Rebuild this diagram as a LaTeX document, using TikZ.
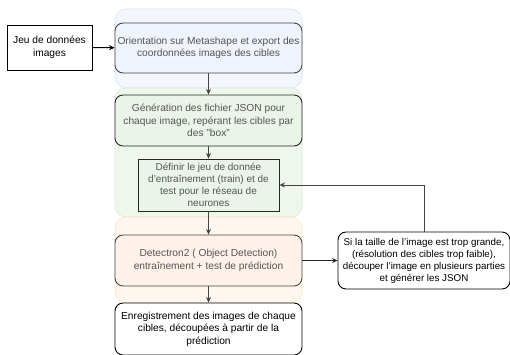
\documentclass[tikz,border=0pt]{standalone}
\usepackage{fontspec}
\setmainfont{Liberation Sans}[Ligatures=ResetAll]
\usetikzlibrary{arrows.meta}
\definecolor{grpblue}{HTML}{F3F7FD}
\definecolor{grpblueb}{HTML}{D6E3F4}
\definecolor{nodeblue}{HTML}{EEF3FC}
\definecolor{grpgreen}{HTML}{EFF7ED}
\definecolor{grpgreenb}{HTML}{D8EAD5}
\definecolor{nodegreen}{HTML}{EBF4E9}
\definecolor{grporange}{HTML}{FFF6EF}
\definecolor{grporangeb}{HTML}{FBE6C4}
\definecolor{nodeorange}{HTML}{FFF2EA}
\definecolor{txtgray}{HTML}{555555}
\definecolor{edgegray}{HTML}{444444}
\tikzset{
  x=1pt, y=-1pt,
  grp/.style={rounded corners=11pt, line width=0.6pt},
  box/.style={draw=black, line width=0.9pt, align=center, inner sep=0pt,
    font=\fontsize{10.2}{12.5}\selectfont},
  rbox/.style={box, rounded corners=8pt},
  conn/.style={draw=edgegray, line width=0.9pt, -{Stealth[length=5.5pt,width=5pt]}},
}
\begin{document}
\begin{tikzpicture}
\useasboundingbox (0,0) rectangle (510,354);
% groups
\draw[grp, fill=grpblue, draw=grpblueb] (115,9) rectangle (302,88);
\draw[grp, fill=grpgreen, draw=grpgreenb] (115,88) rectangle (302,217);
\draw[grp, fill=grporange, draw=grporangeb] (115,217) rectangle (302,303);
% nodes
\node[box, minimum width=85pt, minimum height=45pt] (jeu) at (49.5,47.5) {Jeu de données\\images};
\node[rbox, fill=nodeblue, draw=edgegray, text=txtgray, minimum width=187pt, minimum height=50pt] (ori) at (208.5,48) {Orientation sur Metashape et export des\\coordonnées images des cibles};
\node[rbox, fill=nodegreen, draw=black!85, text=txtgray, minimum width=187pt, minimum height=51pt] (gen) at (208.5,120.5) {Génération des fichier JSON pour\\chaque image, repérant les cibles par\\des "box"};
\node[box, fill=nodegreen, draw=black!85, text=txtgray, minimum width=141pt, minimum height=52pt, font=\fontsize{10}{11.8}\selectfont] (def) at (208.5,185) {Définir le jeu de donnée\\d'entraînement (train) et de\\test pour le réseau de\\neurones};
\node[rbox, fill=nodeorange, draw=edgegray, text=txtgray, minimum width=187pt, minimum height=51pt] (det) at (208.5,260.5) {Detectron2 ( Object Detection)\\entraînement + test de prédiction};
\node[rbox, fill=white, minimum width=187pt, minimum height=52pt] (enr) at (208.5,329) {Enregistrement des images de chaque\\cibles, découpées à partir de la\\prédiction};
\node[rbox, fill=white, minimum width=172pt, minimum height=57pt, font=\fontsize{9.8}{12}\selectfont] (si) at (424,260.5) {Si la taille de l'image est trop grande,\\(résolution des cibles trop faible),\\découper l'image en plusieurs parties\\et générer les JSON};
% connectors
\draw[conn, draw=black] (jeu) -- (ori);
\draw[conn] (ori) -- (gen);
\draw[conn] (gen) -- (def);
\draw[conn] (def) -- (det);
\draw[conn] (det) -- (enr);
\draw[conn, draw=black!85] (det) -- (si);
\draw[conn] (si.north) |- (def.east |- 0,185);
\end{tikzpicture}
\end{document}
